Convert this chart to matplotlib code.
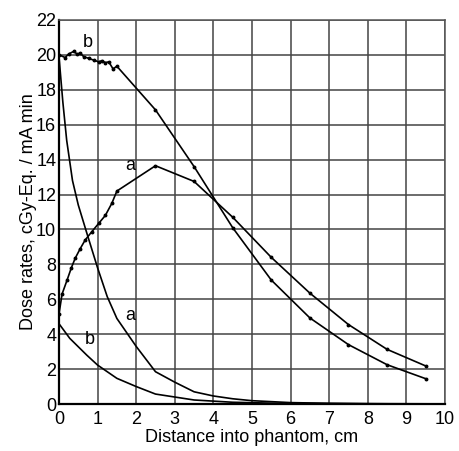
import matplotlib
matplotlib.use("Agg")
import matplotlib.pyplot as plt

plt.rcParams['font.family'] = ['Liberation Sans', 'DejaVu Sans']

# curve b, marked (starts near 20)
b_mark_x = [0, 0.16, 0.25, 0.38, 0.47, 0.55, 0.64, 0.77, 0.9, 1.03, 1.11, 1.2, 1.29,
            1.4, 1.5, 2.5, 3.5, 4.5, 5.5, 6.5, 7.5, 8.5, 9.5]
b_mark_y = [20.0, 19.85, 20.05, 20.2, 20.05, 20.1, 19.9, 19.8, 19.7, 19.6, 19.67, 19.56, 19.6,
            19.2, 19.35, 16.85, 13.6, 10.1, 7.1, 4.93, 3.4, 2.25, 1.45]

# curve a, marked (starts near 5)
a_mark_x = [0, 0.08, 0.21, 0.32, 0.42, 0.55, 0.68, 0.85, 1.03, 1.2, 1.37, 1.5,
            2.5, 3.5, 4.5, 5.5, 6.5, 7.5, 8.5, 9.5]
a_mark_y = [5.15, 6.3, 7.1, 7.8, 8.35, 8.9, 9.4, 9.87, 10.35, 10.8, 11.5, 12.2,
            13.65, 12.75, 10.7, 8.4, 6.35, 4.55, 3.13, 2.18]

# curve a, unmarked (falling from 20)
a_fall_x = [0, 0.1, 0.2, 0.35, 0.5, 0.72, 1.0, 1.25, 1.5, 2.0, 2.5, 3.0, 3.5,
            4.0, 4.5, 5.0, 6.0, 7.0, 8.0, 9.5]
a_fall_y = [19.9, 17.3, 15.1, 12.8, 11.4, 9.8, 7.8, 6.15, 4.9, 3.3, 1.85, 1.25, 0.7,
            0.46, 0.3, 0.19, 0.08, 0.04, 0.02, 0.01]

# curve b, unmarked (falling from 4.6)
b_fall_x = [0, 0.28, 0.72, 1.0, 1.5, 2.0, 2.5, 3.5, 4.5, 5.5, 6.5, 7.5, 8.5, 9.5]
b_fall_y = [4.6, 3.76, 2.8, 2.23, 1.47, 1.0, 0.57, 0.23, 0.1, 0.05, 0.03, 0.02, 0.01, 0.01]

fig = plt.figure(figsize=(4.59, 4.51), dpi=100)
ax = fig.add_axes([0.1285, 0.1042, 0.841, 0.8515])

lw = 1.2
ax.plot(b_mark_x, b_mark_y, color="black", lw=lw, marker="o", ms=1.8, zorder=3)
ax.plot(a_mark_x, a_mark_y, color="black", lw=lw, marker="o", ms=1.8, zorder=3)
ax.plot(a_fall_x, a_fall_y, color="black", lw=lw, zorder=3)
ax.plot(b_fall_x, b_fall_y, color="black", lw=lw, zorder=3)

fs = 13
ax.text(0.75, 20.2, "b", fontsize=fs, ha="center", va="bottom")
ax.text(1.85, 13.2, "a", fontsize=fs, ha="center", va="bottom")
ax.text(1.85, 4.6, "a", fontsize=fs, ha="center", va="bottom")
ax.text(0.8, 3.2, "b", fontsize=fs, ha="center", va="bottom")

ax.set_xlim(0, 10)
ax.set_ylim(0, 22)
ax.set_xticks(range(0, 11))
ax.set_yticks(range(0, 23, 2))
ax.tick_params(length=0, labelsize=fs, pad=2)
ax.tick_params(axis="x", pad=5)
ax.grid(True, color="#444444", lw=1.1)
ax.set_axisbelow(True)

for side in ["top", "right"]:
    ax.spines[side].set_color("#555555")
    ax.spines[side].set_linewidth(1.1)
for side in ["left", "bottom"]:
    ax.spines[side].set_color("black")
    ax.spines[side].set_linewidth(1.6)

ax.set_xlabel("Distance into phantom, cm", fontsize=fs, labelpad=1)
ax.set_ylabel("Dose rates, cGy-Eq. / mA min", fontsize=fs, labelpad=-1)

plt.savefig("out.png", dpi=100)
